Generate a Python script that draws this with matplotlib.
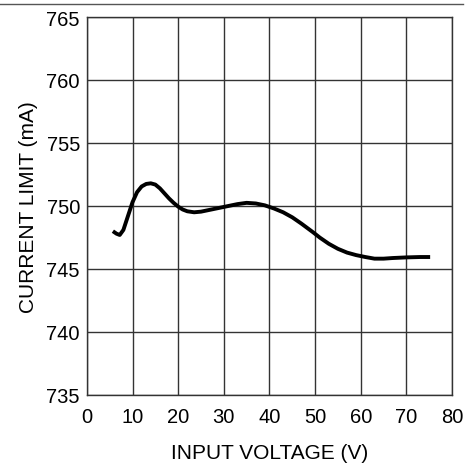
import matplotlib
matplotlib.use("Agg")
from matplotlib import pyplot as plt
from matplotlib.lines import Line2D

plt.rcParams['font.family'] = ['Liberation Sans', 'DejaVu Sans']

# données
tension = [5.7, 6.5, 7.2, 8.0, 9.0, 10.0, 11.0, 12.0, 13.0, 14.0, 15.0, 16.0,
           17.0, 18.0, 19.0, 20.0, 21.0, 22.0, 23.5, 25.0, 27.0, 29.0, 31.0,
           33.0, 35.0, 37.0, 39.0, 41.0, 43.0, 45.0, 47.0, 49.6, 51.0, 53.0,
           55.0, 57.0, 59.0, 61.0, 63.0, 65.0, 67.0, 70.0, 73.0, 75.2]
courant = [748.0, 747.8, 747.7, 748.1, 749.2, 750.3, 751.1, 751.55, 751.75,
           751.8, 751.7, 751.4, 751.0, 750.6, 750.25, 749.95, 749.72, 749.58,
           749.5, 749.55, 749.7, 749.85, 750.0, 750.15, 750.25, 750.2, 750.05,
           749.8, 749.5, 749.1, 748.6, 747.9, 747.5, 747.0, 746.6, 746.3,
           746.1, 745.95, 745.82, 745.82, 745.87, 745.92, 745.95, 745.95]

x_ticks = [0, 10, 20, 30, 40, 50, 60, 70, 80]
y_ticks = [735, 740, 745, 750, 755, 760, 765]

fig = plt.figure(figsize=(4.67, 4.64), dpi=100)
ax = fig.add_axes([0.186, 0.1466, 0.782, 0.8146])

ax.plot(tension, courant, color='black', linewidth=2.8, solid_capstyle='butt')

ax.set_xlim(0, 80)
ax.set_ylim(735, 765)
ax.set_xticks(x_ticks)
ax.set_yticks(y_ticks)
ax.grid(True, color='#333333', linewidth=1.0)
ax.tick_params(length=0, labelsize=14.5)
ax.tick_params(axis='x', pad=9)
ax.tick_params(axis='y', pad=5)
for s in ax.spines.values():
    s.set_color('#333333')
    s.set_linewidth(1.0)

ax.set_xlabel('INPUT VOLTAGE (V)', fontsize=15, labelpad=12)
ax.set_ylabel('CURRENT LIMIT (mA)', fontsize=15, labelpad=6)

# ligne en haut de l'image
fig.add_artist(Line2D([0.0, 0.992], [0.989, 0.989], color='#555555', linewidth=1.0))

fig.savefig('out.png', dpi=100)
